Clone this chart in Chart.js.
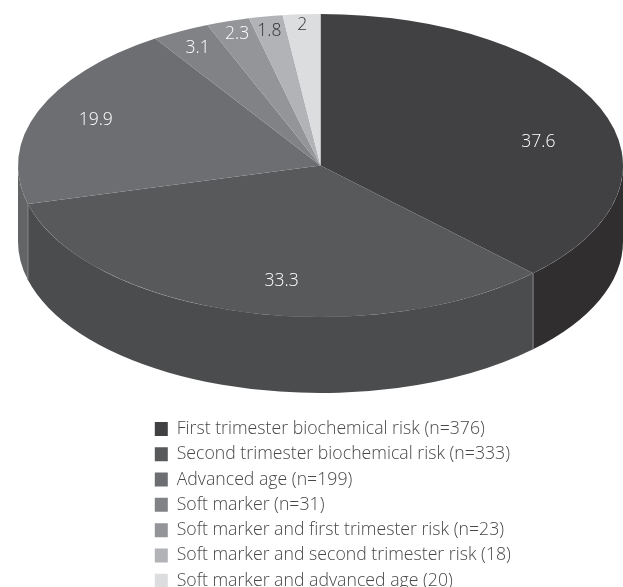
<!DOCTYPE html>
<html lang="en">
  <head>
    <meta charset="UTF-8" />
    <title>Indications pie</title>
    <script src="https://cdn.jsdelivr.net/npm/chart.js"></script>
    <style>
      html, body { margin: 0; padding: 0; background: #fff; overflow: hidden; }
      canvas { display: block; }
    </style>
  </head>
  <body>
    <canvas id="pie" width="623" height="587"></canvas>

    <script>
      const categories = [
        "First trimester biochemical risk (n=376)",
        "Second trimester biochemical risk (n=333)",
        "Advanced age (n=199)",
        "Soft marker (n=31)",
        "Soft marker and first trimester risk (n=23)",
        "Soft marker and second trimester risk (18)",
        "Soft marker and advanced age (20)"
      ];
      const percents = [37.6, 33.3, 19.9, 3.1, 2.3, 1.8, 2];
      const topColors = ["#414042", "#58595b", "#6d6e71", "#808285", "#939598", "#b1b3b6", "#dcddde"];
      const wallColors = ["#302e2f", "#4b4c4d", "#636466", "#6d6e71", "#808285", "#939598", "#b1b3b6"];
      const labelColors = ["#fff", "#fff", "#fff", "#fff", "#fff", "#333", "#333"];
      // nudges from the default label spot, in px
      const labelNudgeX = [8, 21, -13, -18, -14, -10, -4];
      const labelNudgeY = [20, 6, -5, -17, -23, -23, -27];

      // tilted disc on the page
      const disc = { cx: 320.5, cy: 165.5, rx: 302.5, ry: 151.5, depth: 76 };

      function tilt(ctx, arc) {
        ctx.translate(disc.cx, disc.cy);
        ctx.scale(disc.rx / arc.outerRadius, disc.ry / arc.outerRadius);
        ctx.translate(-arc.x, -arc.y);
      }

      // side wall, only the part of each slice facing the viewer (0..PI)
      const discPlugin = {
        id: "disc",
        beforeDatasetDraw(chart, args) {
          const ctx = chart.ctx;
          const arcs = args.meta.data;
          arcs.forEach((arc, i) => {
            const from = Math.max(arc.startAngle, 0);
            const to = Math.min(arc.endAngle, Math.PI);
            if (to <= from) return;
            ctx.beginPath();
            ctx.ellipse(disc.cx, disc.cy, disc.rx, disc.ry, 0, from, to);
            ctx.ellipse(disc.cx, disc.cy + disc.depth, disc.rx, disc.ry, 0, to, from, true);
            ctx.closePath();
            ctx.fillStyle = wallColors[i];
            ctx.fill();
            if (from > 0) {
              const x = disc.cx + disc.rx * Math.cos(from);
              const y = disc.cy + disc.ry * Math.sin(from);
              ctx.beginPath();
              ctx.moveTo(x, y);
              ctx.lineTo(x, y + disc.depth);
              ctx.strokeStyle = "#85868a";
              ctx.lineWidth = 1;
              ctx.stroke();
            }
          });
          ctx.save();
          tilt(ctx, arcs[0]);
        },
        afterDatasetDraw(chart) {
          chart.ctx.restore();
        },
        afterDraw(chart) {
          const ctx = chart.ctx;
          ctx.save();
          ctx.font = "300 17.5px 'Open Sans'";
          ctx.textAlign = "center";
          ctx.textBaseline = "middle";
          chart.getDatasetMeta(0).data.forEach((arc, i) => {
            const mid = (arc.startAngle + arc.endAngle) / 2;
            const x = disc.cx + 0.75 * disc.rx * Math.cos(mid) + labelNudgeX[i];
            const y = disc.cy + 0.75 * disc.ry * Math.sin(mid) + labelNudgeY[i];
            ctx.fillStyle = labelColors[i];
            ctx.fillText(String(percents[i]), x, y);
          });
          ctx.restore();
        },
        // one column under the pie
        afterLayout(chart) {
          const legend = chart.legend;
          const w = legend.width, h = legend.height;
          legend.left = 147.2;
          legend.right = 147.2 + w;
          legend.top = 412.5;
          legend.bottom = 412.5 + h;
        }
      };

      new Chart(document.getElementById("pie"), {
        type: "pie",
        data: {
          labels: categories,
          datasets: [{ data: percents, backgroundColor: topColors, borderWidth: 0, clip: false }]
        },
        options: {
          responsive: false,
          animation: false,
          plugins: {
            tooltip: { enabled: false },
            legend: {
              position: "left",
              align: "start",
              maxWidth: 440,
              labels: {
                boxWidth: 13,
                boxHeight: 14,
                padding: 7.6,
                color: "#48484a",
                font: { family: "'Open Sans'", size: 17.7, weight: "300", lineHeight: 1 }
              }
            }
          }
        },
        plugins: [discPlugin]
      });
    </script>
  </body>
</html>
